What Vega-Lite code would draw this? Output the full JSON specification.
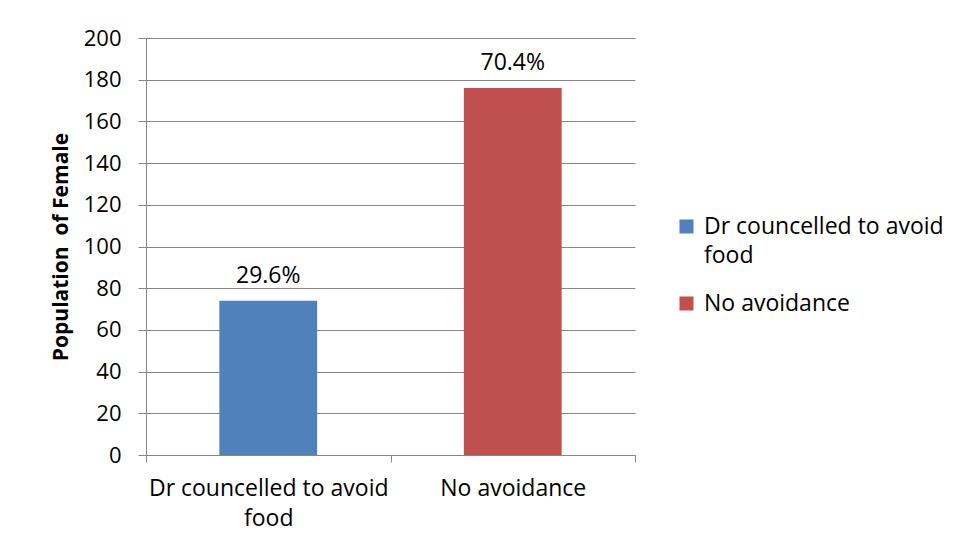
{
  "$schema": "https://vega.github.io/schema/vega-lite/v6.json",
  "width": 489,
  "height": 417,
  "autosize": {"type": "none"},
  "padding": {"left": 146, "top": 38, "right": 321, "bottom": 87},
  "background": "white",
  "data": {
    "values": [
      {"group": "Dr councelled to avoid food", "count": 74, "share": "29.6%"},
      {"group": "No avoidance", "count": 176, "share": "70.4%"}
    ]
  },
  "encoding": {
    "x": {
      "field": "group",
      "type": "nominal",
      "sort": null,
      "scale": {"paddingInner": 0, "paddingOuter": 0},
      "axis": {
        "title": null,
        "labelAngle": 0,
        "tickBand": "extent",
        "labelExpr": "datum.label == 'Dr councelled to avoid food' ? ['Dr councelled to avoid', 'food'] : datum.label",
        "labelLineHeight": 30,
        "labelBaseline": "top",
        "labelLimit": 400,
        "labelPadding": 15,
        "labelFontSize": 23,
        "labelColor": "#000000",
        "grid": false,
        "domainColor": "#868686",
        "tickColor": "#868686",
        "tickSize": 7
      }
    },
    "y": {
      "field": "count",
      "type": "quantitative",
      "scale": {"domain": [0, 200]},
      "axis": {
        "title": "Population \u00a0of Female",
        "values": [0, 20, 40, 60, 80, 100, 120, 140, 160, 180, 200],
        "grid": true,
        "gridColor": "#868686",
        "gridOpacity": 1,
        "domainColor": "#868686",
        "tickColor": "#868686",
        "tickSize": 8,
        "labelPadding": 17,
        "labelFontSize": 22,
        "labelColor": "#000000",
        "titleFontSize": 21,
        "titleFontWeight": "bold",
        "titleColor": "#000000",
        "titlePadding": 12
      }
    }
  },
  "layer": [
    {
      "mark": {"type": "bar", "width": {"band": 0.4}},
      "encoding": {
        "color": {
          "field": "group",
          "type": "nominal",
          "sort": null,
          "scale": {"range": ["#4F81BD", "#C0504D"]},
          "legend": {
            "orient": "none",
            "legendX": 529,
            "legendY": 177,
            "title": null,
            "symbolType": "square",
            "symbolSize": 196,
            "symbolStrokeWidth": 0,
            "labelFontSize": 23,
            "labelColor": "#000000",
            "labelOffset": 6,
            "labelLimit": 400,
            "labelExpr": "datum.label == 'Dr councelled to avoid food' ? ['Dr councelled to avoid', 'food'] : datum.label",
            "rowPadding": 24
          }
        }
      }
    },
    {
      "mark": {"type": "text", "dy": -18, "baseline": "alphabetic", "fontSize": 23, "color": "#000000"},
      "encoding": {"text": {"field": "share"}}
    }
  ],
  "config": {
    "font": "Open Sans",
    "view": {"stroke": null},
    "style": {"guide-label": {"lineHeight": 29}}
  }
}
